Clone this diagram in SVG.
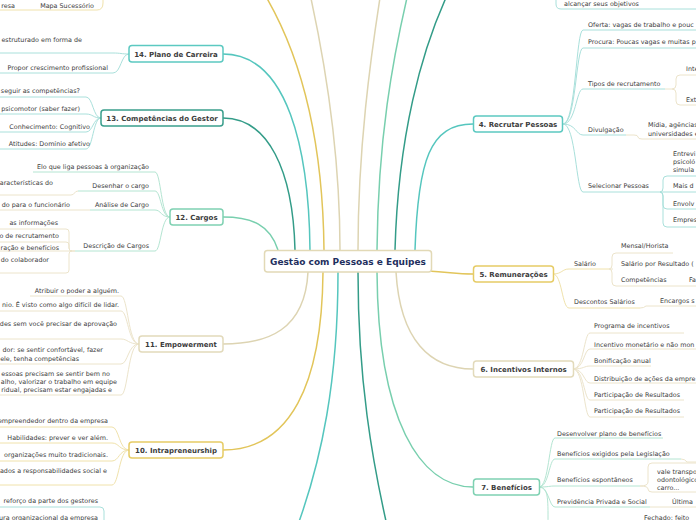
<svg xmlns="http://www.w3.org/2000/svg" width="696" height="520" viewBox="0 0 696 520">
<style>
text{font-family:"DejaVu Sans","Liberation Sans",sans-serif;}
.t{font-size:6.4px;fill:#3c3c3c;}
.e{text-anchor:end;}
.n{font-size:7px;font-weight:bold;fill:#3c3c3c;text-anchor:middle;}
.c{font-size:9px;font-weight:bold;fill:#1e2f5e;text-anchor:middle;}
rect{fill:#fff;stroke-width:1.5;}
path{fill:none;}
.m{stroke-width:1.5;}
.s{stroke-width:1;}
.kT{stroke:#55c6be;}.kD{stroke:#339c88;}.kM{stroke:#78cfae;}.kB{stroke:#ddd4b2;}.kY{stroke:#e2c55a;}
.sT{stroke:#a9e0db;}.sM{stroke:#b4e5d2;}.sB{stroke:#ece4cb;}.sY{stroke:#f0e2ab;}
</style>
<rect width="696" height="520" style="fill:#fff;stroke:none"/>
<g id="connectors">
<!-- main connectors -->
<path class="m kD" d="M295,250 C293,170 268,118 223,118"/>
<path class="m kT" d="M310,250 C309,150 288,54 223,54"/>
<path class="m kY" d="M324,250 C323,150 305,60 262,-10"/>
<path class="m kB" d="M340,250 C340,150 325,60 308,-15"/>
<path class="m kB" d="M358,250 C358,150 370,60 382,-15"/>
<path class="m kM" d="M377,250 C378,140 392,60 410,-15"/>
<path class="m kD" d="M395,250 C398,140 420,50 452,-15"/>
<path class="m kT" d="M415,250 C418,160 430,124 473,124"/>
<path class="m kM" d="M278,250 C270,225 252,217 223,217"/>
<path class="m kB" d="M308,272 C305,330 268,344 223,344"/>
<path class="m kY" d="M323,272 C322,385 290,450 223,450"/>
<path class="m kT" d="M338,272 C338,380 322,460 296,530"/>
<path class="m kD" d="M358,272 C358,380 372,460 388,530"/>
<path class="m kM" d="M377,272 C378,420 420,487 473,487"/>
<path class="m kB" d="M396,272 C400,340 430,369 473,369"/>
<path class="m kY" d="M428,271 C450,272 455,274 473,274"/>
<!-- top-left / top-right fragments -->
<path class="s sY" d="M-5,10 L97,10 Q103,10 103,3 L103,-5"/>
<path class="s sT" d="M556,-5 L556,4 Q556,9 561,9 L700,9"/>
<path class="s sT" d="M-5,507 L100,507 Q104,507 104,511 L104,525"/>
<!-- 14 -->
<path class="s sT" d="M129,54 C121,54 121,53 113,53 L-5,53"/>
<path class="s sT" d="M129,54 C121,54 121,73 113,73 L-5,73"/>
<!-- 13 -->
<path class="s sT" d="M101,118 C93,118 93,97 86,97 L-5,97"/>
<path class="s sT" d="M101,118 C93,118 93,114 86,114 L-5,114"/>
<path class="s sT" d="M101,118 C93,118 93,132 86,132 L-5,132"/>
<path class="s sT" d="M101,118 C93,118 93,149 86,149 L-5,149"/>
<!-- 12 -->
<path class="s sM" d="M170,217 C161,217 161,172 155,172 L33,172"/>
<path class="s sM" d="M170,217 C161,217 161,191 155,191 L78,191"/>
<path class="s sM" d="M170,217 C161,217 161,210 155,210 L90,210"/>
<path class="s sM" d="M170,217 C161,217 161,251 155,251 L75,251"/>
<path class="s sB" d="M78,191 C74,191 75,195 71,195 L-5,195"/>
<path class="s sB" d="M90,210 L-5,210"/>
<path class="s sB" d="M75,251 L72,251 Q69,251 69,248 L69,232 Q69,229 66,229 L-5,229"/>
<path class="s sB" d="M72,251 Q69,251 69,248 L69,245 Q69,242 66,242 L-5,242"/>
<path class="s sB" d="M75,251 L-5,251"/>
<path class="s sB" d="M72,251 Q69,251 69,254 L69,270 Q69,273 66,273 L-5,273"/>
<!-- 11 -->
<path class="s sB" d="M139,344 C128,344 128,296 121,296 L30,296"/>
<path class="s sB" d="M139,344 C128,344 128,311 121,311 L-5,311"/>
<path class="s sB" d="M139,344 C128,344 128,339 121,339 L-5,339"/>
<path class="s sB" d="M139,344 C128,344 128,364 121,364 L-5,364"/>
<path class="s sB" d="M139,344 C128,344 128,395 121,395 L-5,395"/>
<!-- 10 -->
<path class="s sY" d="M129,450 C119,450 119,427 112,427 L-5,427"/>
<path class="s sY" d="M129,450 C119,450 119,443 112,443 L-5,443"/>
<path class="s sY" d="M129,450 C119,450 119,461 112,461 L-5,461"/>
<path class="s sY" d="M129,450 C119,450 119,485 112,485 L-5,485"/>
<!-- 4 -->
<path class="s sT" d="M563,124 C576,124 576,30 583,30 L700,30"/>
<path class="s sT" d="M563,124 C576,124 576,48 583,48 L700,48"/>
<path class="s sT" d="M563,124 C576,124 576,89 583,89 L665,89"/>
<path class="s sT" d="M563,124 C576,124 576,135 583,135 L626,135"/>
<path class="s sT" d="M563,124 C576,124 576,192 583,192 L660,192"/>
<path class="s sB" d="M665,89 L672,89 Q676,89 676,85 L676,79 Q676,75 680,75 L700,75"/>
<path class="s sB" d="M672,89 Q676,89 676,93 L676,101 Q676,105 680,105 L700,105"/>
<path class="s sB" d="M626,135 L634,135 Q638,135 638,137 Q638,139 642,139 L700,139"/>
<path class="s sT" d="M660,192 Q663,192 663,188 L663,180 Q663,176 667,176 L700,176"/>
<path class="s sT" d="M660,192 L700,192"/>
<path class="s sT" d="M660,192 Q663,192 663,196 L663,205 Q663,209 667,209 L700,209"/>
<path class="s sT" d="M660,192 Q663,192 663,196 L663,223 Q663,227 667,227 L700,227"/>
<!-- 5 -->
<path class="s sY" d="M553,274 C562,274 562,269 569,269 L609,269"/>
<path class="s sY" d="M553,274 C562,274 562,308 569,308 L640,308"/>
<path class="s sB" d="M609,269 Q612,269 612,265 L612,257 Q612,253 616,253 L673,253"/>
<path class="s sB" d="M609,269 L613,269"/>
<path class="s sB" d="M609,269 Q612,269 612,273 L612,282 Q612,286 616,286 L700,286"/>
<path class="s sB" d="M640,308 Q644,308 646,306 L700,306"/>
<!-- 6 -->
<path class="s sB" d="M573,369 C584,369 584,333 590,333 L684,333"/>
<path class="s sB" d="M573,369 C584,369 584,349 590,349 L700,349"/>
<path class="s sB" d="M573,369 C584,369 584,366 590,366 L651,366"/>
<path class="s sB" d="M573,369 C584,369 584,383 590,383 L700,383"/>
<path class="s sB" d="M573,369 C584,369 584,400 590,400 L684,400"/>
<path class="s sB" d="M573,369 C584,369 584,417 590,417 L684,417"/>
<!-- 7 -->
<path class="s sM" d="M539,487 C549,487 549,438 555,438 L663,438"/>
<path class="s sM" d="M539,487 C549,487 549,459 555,459 L681,459"/>
<path class="s sM" d="M539,487 C549,487 549,486 555,486 L640,486"/>
<path class="s sM" d="M539,487 C549,487 549,507 555,507 L650,507"/>
<path class="s sM" d="M539,487 C549,487 548,500 548,530"/>
<path class="s sB" d="M681,459 Q685,459 687,462 L700,462"/>
<path class="s sB" d="M640,486 Q648,486 648,482 L648,467 Q648,463 652,463 L700,463"/>
<path class="s sB" d="M640,486 Q648,486 648,489 Q648,492 652,492 L700,492"/>
<path class="s sB" d="M650,507 L700,507"/>
</g>
<g id="central"><rect x="264.5" y="250.5" width="167" height="21.5" rx="3" style="stroke:#e2d9b6"/><text class="c" x="348" y="265.3">Gestão com Pessoas e Equipes</text></g>
<g id="n14"><rect x="129" y="45.5" width="94" height="16.5" rx="3" style="stroke:#5cc9c1"/><text class="n" x="176" y="56.5">14. Plano de Carreira</text></g>
<g id="n13"><rect x="101" y="110" width="122" height="16" rx="3" style="stroke:#3a9e8c"/><text class="n" x="162" y="120.5">13. Competências do Gestor</text></g>
<g id="n12"><rect x="170" y="209" width="53" height="16" rx="3" style="stroke:#7fd1b2"/><text class="n" x="196.5" y="219.5">12. Cargos</text></g>
<g id="n11"><rect x="139" y="336" width="84" height="16" rx="3" style="stroke:#e2dabb"/><text class="n" x="181" y="346.5">11. Empowerment</text></g>
<g id="n10"><rect x="129" y="442" width="94" height="16" rx="3" style="stroke:#e6cc66"/><text class="n" x="176" y="452.5">10. Intrapreneurship</text></g>
<g id="n4"><rect x="473.5" y="116" width="89" height="16" rx="3" style="stroke:#5cc9c1"/><text class="n" x="518" y="126.5">4. Recrutar Pessoas</text></g>
<g id="n5"><rect x="473.5" y="266" width="80" height="16" rx="3" style="stroke:#e6cc66"/><text class="n" x="513.5" y="276.5">5. Remunerações</text></g>
<g id="n6"><rect x="473.5" y="361" width="100" height="16" rx="3" style="stroke:#e2dabb"/><text class="n" x="523.5" y="371.5">6. Incentivos Internos</text></g>
<g id="n7"><rect x="473.5" y="479" width="66" height="16" rx="3" style="stroke:#7fd1b2"/><text class="n" x="506.5" y="489.5">7. Benefícios</text></g>
<g id="leaves-left">
<text class="t e" x="15" y="7.5">resa</text>
<text class="t e" x="94" y="7.5">Mapa Sucessório</text>
<text class="t e" x="82" y="41.5">estruturado em forma de</text>
<text class="t e" x="108" y="70">Propor crescimento profissional</text>
<text class="t e" x="80" y="93">seguir as competências?</text>
<text class="t e" x="80" y="110.6">psicomotor (saber fazer)</text>
<text class="t e" x="90" y="129">Conhecimento: Cognitivo</text>
<text class="t e" x="90" y="145.8">Atitudes: Domínio afetivo</text>
<text class="t e" x="149" y="168.5">Elo que liga pessoas à organização</text>
<text class="t e" x="53" y="184.5">aracterísticas do</text>
<text class="t e" x="149" y="187.5">Desenhar o cargo</text>
<text class="t e" x="70" y="206.5">do para o funcionário</text>
<text class="t e" x="149" y="206.5">Análise de Cargo</text>
<text class="t e" x="58" y="224.5">as informações</text>
<text class="t e" x="59" y="237.5">o de recrutamento</text>
<text class="t e" x="59" y="249.6">ração e benefícios</text>
<text class="t e" x="149" y="248">Descrição de Cargos</text>
<text class="t e" x="49" y="262.3">do colaborador</text>
<text class="t e" x="119" y="293">Atribuir o poder a alguém.</text>
<text class="t e" x="119" y="306.6">nio. É visto como algo difícil de lidar.</text>
<text class="t e" x="117" y="325.6">des sem você precisar de aprovação</text>
<text class="t e" x="103" y="352.3">dor: se sentir confortável, fazer</text>
<text class="t e" x="79" y="360.6">ele, tenha competências</text>
<text class="t e" x="110" y="376.3">essoas precisam se sentir bem no</text>
<text class="t e" x="117" y="384.3">alho, valorizar o trabalho em equipe</text>
<text class="t e" x="112" y="392">ridual, precisam estar engajadas e</text>
<text class="t e" x="108" y="423">empreendedor dentro da empresa</text>
<text class="t e" x="108" y="440">Habilidades: prever e ver além.</text>
<text class="t e" x="108" y="456.6">organizações muito tradicionais.</text>
<text class="t e" x="107" y="473.3">ados a responsabilidades social e</text>
<text class="t e" x="98" y="503">reforço da parte dos gestores</text>
<text class="t e" x="98" y="519.6">ura organizacional da empresa</text>
</g>
<g id="leaves-right">
<text class="t" x="564" y="6.3">alcançar seus objetivos</text>
<text class="t" x="588" y="26.6">Oferta: vagas de trabalho e pouc</text>
<text class="t" x="588" y="44">Procura: Poucas vagas e muitas p</text>
<text class="t" x="686" y="70.6">Inte</text>
<text class="t" x="588" y="85.6">Tipos de recrutamento</text>
<text class="t" x="686" y="101.6">Ext</text>
<text class="t" x="648" y="127.3">Mídia, agências</text>
<text class="t" x="588" y="131.6">Divulgação</text>
<text class="t" x="648" y="136.3">universidades e</text>
<text class="t" x="673" y="155.6">Entrevi</text>
<text class="t" x="673" y="164">psicoló</text>
<text class="t" x="673" y="171.6">simula</text>
<text class="t" x="588" y="188.3">Selecionar Pessoas</text>
<text class="t" x="673" y="188.3">Mais d</text>
<text class="t" x="673" y="205.6">Envolv</text>
<text class="t" x="673" y="222.3">Empres</text>
<text class="t" x="621" y="248.3">Mensal/Horista</text>
<text class="t" x="574" y="265.6">Salário</text>
<text class="t" x="621" y="265.6">Salário por Resultado (</text>
<text class="t" x="621" y="282.3">Competências</text>
<text class="t" x="689" y="282.3">Fa</text>
<text class="t" x="660" y="303">Encargos s</text>
<text class="t" x="574" y="304.3">Descontos Salários</text>
<text class="t" x="594" y="328.3">Programa de incentivos</text>
<text class="t" x="594" y="346.6">Incentivo monetário e não mon</text>
<text class="t" x="594" y="363">Bonificação anual</text>
<text class="t" x="594" y="380.6">Distribuição de ações da empre</text>
<text class="t" x="594" y="396.6">Participação de Resultados</text>
<text class="t" x="594" y="413">Participação de Resultados</text>
<text class="t" x="557" y="435.6">Desenvolver plano de benefícios</text>
<text class="t" x="557" y="455.6">Benefícios exigidos pela Legislação</text>
<text class="t" x="657" y="474">vale transpo</text>
<text class="t" x="557" y="481.6">Benefícios espontâneos</text>
<text class="t" x="657" y="481.6">odontológico</text>
<text class="t" x="657" y="490">carro...</text>
<text class="t" x="557" y="504">Previdência Privada e Social</text>
<text class="t" x="672" y="504">Última</text>
<text class="t" x="644" y="520.3">Fechado: feito</text>
</g>
</svg>
